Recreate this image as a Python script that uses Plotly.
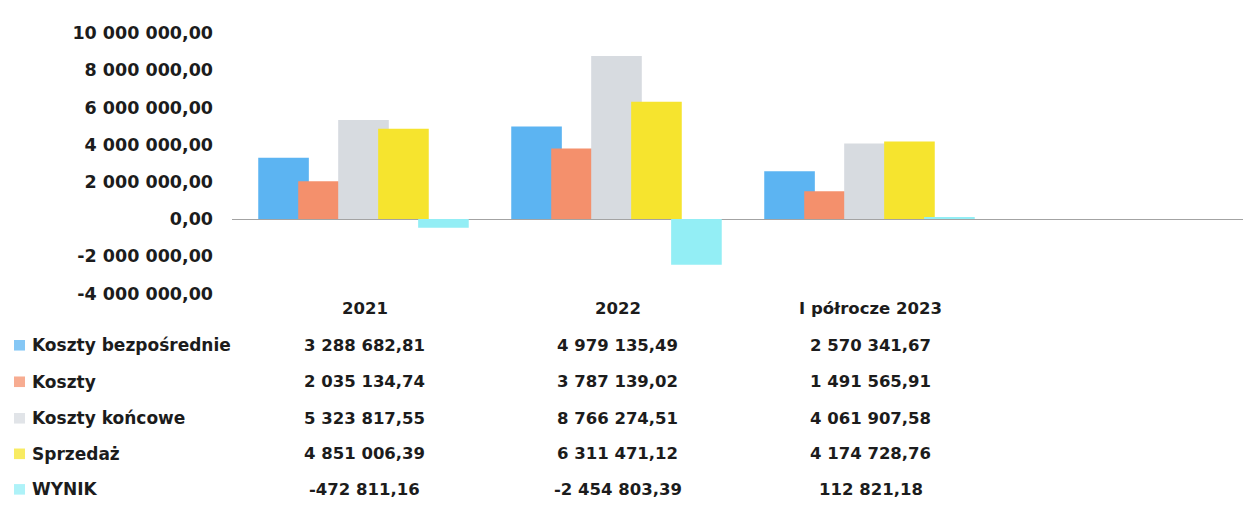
import plotly.graph_objects as go

# Data
categories = ["2021", "2022", "I półrocze 2023"]
series_names = ["Koszty bezpośrednie", "Koszty", "Koszty końcowe", "Sprzedaż", "WYNIK"]
koszty_bezposrednie = [3288682.81, 4979135.49, 2570341.67]
koszty = [2035134.74, 3787139.02, 1491565.91]
koszty_koncowe = [5323817.55, 8766274.51, 4061907.58]
sprzedaz = [4851006.39, 6311471.12, 4174728.76]
wynik = [-472811.16, -2454803.39, 112821.18]
y_tick_values = [-4000000, -2000000, 0, 2000000, 4000000, 6000000, 8000000, 10000000]

series_values = [koszty_bezposrednie, koszty, koszty_koncowe, sprzedaz, wynik]
colors = ["#5cb4f2", "#f4906c", "#d7dbe0", "#f6e42e", "#93eef5"]

W, H = 1243, 508
TEXT = "#1c1c1c"
FONT = "DejaVu Sans"


def fmt(v):
    s = f"{abs(v):,.2f}".replace(",", " ").replace(".", ",")
    return ("-" if v < 0 else "") + s


fig = go.Figure()

# overlapping clustered bars (each bar 0.2 wide, shifted 0.158 per series)
bar_w = 0.2
step = 0.158
first = -0.42
for k, (name, vals, col) in enumerate(zip(series_names, series_values, colors)):
    fig.add_trace(go.Bar(
        x=list(range(len(categories))), y=vals, name=name,
        marker=dict(color=col, line=dict(width=0)),
        width=bar_w, offset=first + k * step,
        showlegend=False,
    ))

# plot area in pixels: four category slots 253 px wide, first one starting at 238
cat_px = 253
first_slot_px = 238
axis_start_px = 232
y_top_px, y_bot_px = 24, 295
xdom = [axis_start_px / W, 1]
ydom = [1 - y_bot_px / H, 1 - y_top_px / H]
x_lo = -0.5 - (first_slot_px - axis_start_px) / cat_px
xr = [x_lo, x_lo + (W - axis_start_px) / cat_px]

fig.update_layout(
    width=W, height=H,
    margin=dict(l=0, r=0, t=0, b=0),
    paper_bgcolor="white", plot_bgcolor="white",
    barmode="overlay",
    xaxis=dict(domain=xdom, range=xr, showticklabels=False, showgrid=False,
               zeroline=False, showline=False, ticks=""),
    yaxis=dict(domain=ydom, range=[-4000000, 10000000], showgrid=False,
               zeroline=True, zerolinecolor="#a3a3a3", zerolinewidth=1,
               showline=False, ticks="",
               tickvals=y_tick_values, ticktext=[fmt(v) for v in y_tick_values],
               ticklabelstandoff=18,
               tickfont=dict(family=FONT, size=17.5, color=TEXT, weight="bold")),
)


def py(p):
    return 1 - p / H


# data table under the chart
header_y = 311
row_y = [349, 387, 425, 462, 499]
font = dict(family=FONT, size=16.5, color=TEXT, weight="bold")
label_font = dict(family=FONT, size=17, color=TEXT, weight="bold")

for i, c in enumerate(categories):
    fig.add_annotation(x=i, y=py(header_y), xref="x", yref="paper", text=c,
                       showarrow=False, font=font, xanchor="center", yanchor="middle")

for r, (name, vals, col) in enumerate(zip(series_names, series_values, colors)):
    yc = row_y[r]
    fig.add_shape(type="rect", xref="paper", yref="paper",
                  x0=14 / W, x1=25 / W, y0=py(yc + 5.5), y1=py(yc - 5.5),
                  fillcolor=col, opacity=0.75, line=dict(width=0))
    fig.add_annotation(x=30 / W, y=py(yc), xref="paper", yref="paper", text=name,
                       showarrow=False, font=label_font, xanchor="left", yanchor="middle")
    for i, v in enumerate(vals):
        fig.add_annotation(x=i, y=py(yc), xref="x", yref="paper", text=fmt(v),
                           showarrow=False, font=font, xanchor="center", yanchor="middle")

fig.write_html("out.html")
